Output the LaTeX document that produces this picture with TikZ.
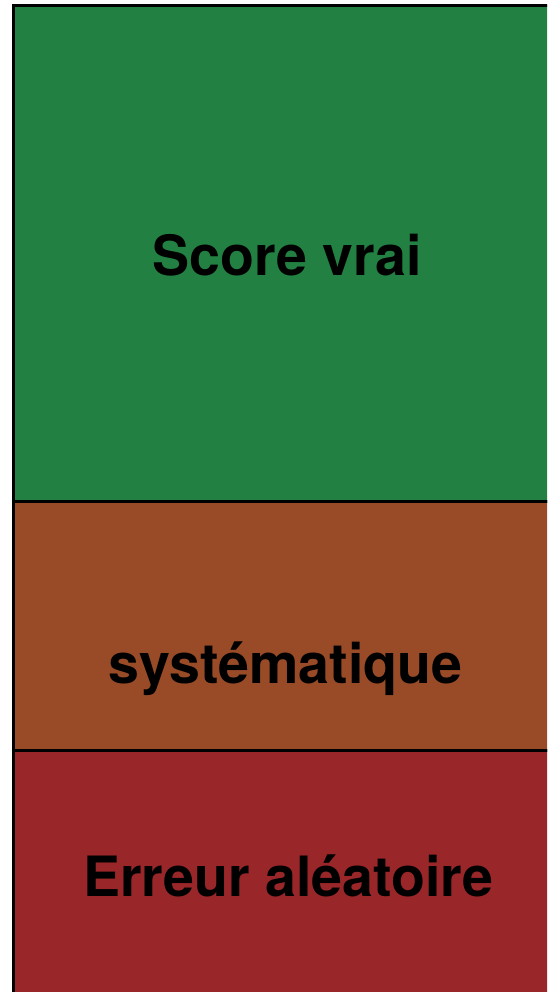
\documentclass[tikz,border=0pt]{standalone}
\usepackage{fontspec}
\setmainfont{TeX Gyre Heros}
\definecolor{cgreen}{RGB}{35,128,67}
\definecolor{cbrown}{RGB}{153,75,40}
\definecolor{cred}{RGB}{153,38,41}
\tikzset{
  band/.style={draw=black, line width=3pt},
  lbl/.style={anchor=base, inner sep=0pt, font=\fontsize{55.5}{60}\selectfont\bfseries, text=black}
}
\begin{document}
\begin{tikzpicture}[x=1pt,y=-1pt]
\useasboundingbox (0,0) rectangle (547,992);
\clip (0,0) rectangle (547,992);
\fill[white] (0,0) rectangle (547,992);
\draw[band, fill=cred] (13.5,750.5) rectangle (560,1005);
\draw[band, fill=cbrown] (13.5,501.5) rectangle (560,750.5);
\draw[band, fill=cgreen] (13.5,5.5) rectangle (560,501.5);
\node[lbl] (score) at (287,275) {Score vrai};
\node[lbl] (sys) at (285.5,683) {systématique};
\node[lbl] (err) at (288.5,896) {Erreur aléatoire};
\end{tikzpicture}
\end{document}
